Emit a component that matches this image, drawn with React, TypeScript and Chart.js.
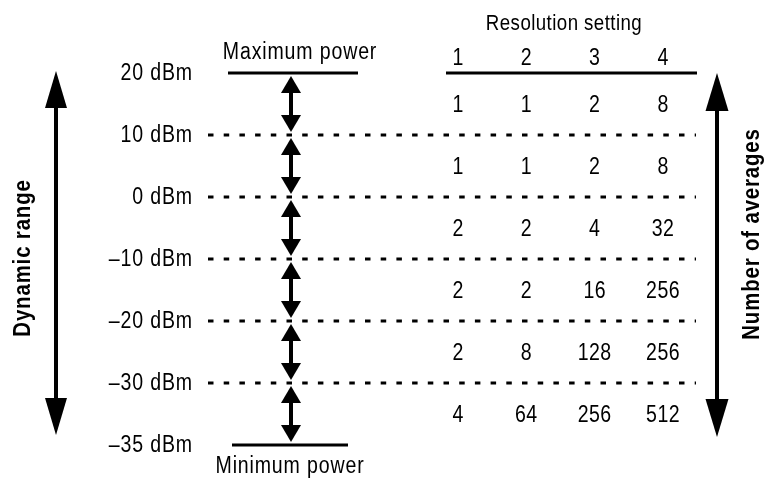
import React, { useEffect, useRef } from "react";
import { Chart, registerables } from "chart.js";

Chart.register(...registerables);

// ---- data ----
const levelLabels = ["20 dBm", "10 dBm", "0 dBm", "–10 dBm", "–20 dBm", "–30 dBm", "–35 dBm"];
const resolutionSettings = [1, 2, 3, 4];
const averagesRes1 = [1, 1, 2, 2, 2, 4];
const averagesRes2 = [1, 1, 2, 2, 8, 64];
const averagesRes3 = [2, 2, 4, 16, 128, 256];
const averagesRes4 = [8, 8, 32, 256, 256, 512];
const averagesByRes = [averagesRes1, averagesRes2, averagesRes3, averagesRes4];

const topLabel = "Maximum power";
const bottomLabel = "Minimum power";
const tableTitle = "Resolution setting";
const leftTitle = "Dynamic range";
const rightTitle = "Number of averages";

const FONT = "'Liberation Sans', Arial, sans-serif";
const SX = 0.85; // horizontal condensing of text

function setSpacing(ctx: any, px: number) {
  if ("letterSpacing" in ctx) ctx.letterSpacing = `${px}px`;
}

// draw condensed text at (x, y), optionally rotated
function cText(ctx: CanvasRenderingContext2D, text: string, x: number, y: number, rot = 0) {
  ctx.save();
  ctx.translate(x, y);
  if (rot) ctx.rotate(rot);
  ctx.scale(SX, 1);
  ctx.fillText(text, 0, 0);
  ctx.restore();
}

function arrowHead(ctx: CanvasRenderingContext2D, x: number, tipY: number, dir: number, halfW: number, len: number) {
  ctx.beginPath();
  ctx.moveTo(x, tipY);
  ctx.lineTo(x - halfW, tipY + dir * len);
  ctx.lineTo(x + halfW, tipY + dir * len);
  ctx.closePath();
  ctx.fill();
}

function doubleArrow(ctx: CanvasRenderingContext2D, x: number, y0: number, y1: number, halfW: number, len: number, shaft: number) {
  ctx.fillRect(x - shaft / 2, y0 + len - 1, shaft, y1 - y0 - 2 * len + 2);
  arrowHead(ctx, x, y0, 1, halfW, len);
  arrowHead(ctx, x, y1, -1, halfW, len);
}

const diagramPlugin = {
  id: "diagram",
  beforeDraw(chart: any) {
    const ctx: CanvasRenderingContext2D = chart.ctx;
    ctx.save();
    ctx.fillStyle = "#fff";
    ctx.fillRect(0, 0, chart.width, chart.height);
    ctx.restore();
  },
  beforeDatasetsDraw(chart: any) {
    const ctx: CanvasRenderingContext2D = chart.ctx;
    const ys = chart.scales.y;
    const xs = chart.scales.x;
    const yL = (i: number) => ys.getPixelForValue(i);
    const n = levelLabels.length;
    ctx.save();
    ctx.fillStyle = "#000";
    ctx.strokeStyle = "#000";

    // level labels
    ctx.font = `23px ${FONT}`;
    setSpacing(ctx, 1);
    ctx.textAlign = "right";
    ctx.textBaseline = "middle";
    levelLabels.forEach((l, i) => cText(ctx, l, 193, yL(i) + 1));

    // dotted interior lines
    ctx.lineWidth = 3;
    ctx.setLineDash([5.5, 10.2]);
    for (let i = 1; i < n - 1; i++) {
      ctx.beginPath();
      ctx.moveTo(208, yL(i));
      ctx.lineTo(696, yL(i));
      ctx.stroke();
    }
    ctx.setLineDash([]);

    // max / min power lines
    ctx.beginPath();
    ctx.moveTo(228, yL(0));
    ctx.lineTo(358, yL(0));
    ctx.moveTo(232, yL(n - 1));
    ctx.lineTo(348, yL(n - 1));
    // table header underline
    ctx.moveTo(446, yL(0));
    ctx.lineTo(697, yL(0));
    ctx.stroke();

    // middle double arrows
    for (let i = 0; i < n - 1; i++) {
      doubleArrow(ctx, 291, yL(i) + 3, yL(i + 1) - 3, 10, 17, 4);
    }

    // big arrows
    doubleArrow(ctx, 56, yL(0) - 2, yL(n - 1) - 10, 11, 37, 4);
    doubleArrow(ctx, 717, yL(0), yL(n - 1) - 8, 11.5, 38, 4);

    // titles
    ctx.textAlign = "center";
    ctx.textBaseline = "alphabetic";
    ctx.font = `23px ${FONT}`;
    setSpacing(ctx, 1);
    cText(ctx, topLabel, 300, 59);
    cText(ctx, bottomLabel, 290, 473);
    ctx.font = `22px ${FONT}`;
    setSpacing(ctx, 0.5);
    cText(ctx, tableTitle, 564, 30);
    ctx.font = `23px ${FONT}`;
    resolutionSettings.forEach((s) => cText(ctx, String(s), xs.getPixelForValue(s), 65));

    // rotated titles
    ctx.font = `bold 24px ${FONT}`;
    setSpacing(ctx, 1);
    ctx.textBaseline = "middle";
    cText(ctx, leftTitle, 23, 258, -Math.PI / 2);
    cText(ctx, rightTitle, 752, 234, -Math.PI / 2);

    ctx.restore();
  },
  afterDatasetsDraw(chart: any) {
    const ctx: CanvasRenderingContext2D = chart.ctx;
    ctx.save();
    ctx.fillStyle = "#000";
    ctx.font = `23px ${FONT}`;
    setSpacing(ctx, 0.5);
    ctx.textAlign = "center";
    ctx.textBaseline = "middle";
    chart.data.datasets.forEach((ds: any, di: number) => {
      const meta = chart.getDatasetMeta(di);
      meta.data.forEach((el: any, i: number) => {
        cText(ctx, String(ds.data[i].v), el.x, el.y + 2);
      });
    });
    ctx.restore();
  },
};

export default function App() {
  const ref = useRef<HTMLCanvasElement | null>(null);
  useEffect(() => {
    document.body.style.margin = "0";
    if (!ref.current) return;
    const datasets = resolutionSettings.map((s, si) => ({
      label: `Resolution ${s}`,
      data: averagesByRes[si].map((v, i) => ({ x: s, y: i + 0.5, v })),
      pointRadius: 0,
      pointHoverRadius: 0,
      showLine: false,
    }));
    const chart = new Chart(ref.current, {
      type: "scatter",
      data: { datasets },
      options: {
        animation: false,
        responsive: false,
        maintainAspectRatio: false,
        layout: { padding: 0 },
        plugins: { legend: { display: false }, tooltip: { enabled: false } },
        events: [],
        scales: {
          x: { type: "linear", min: -5.703, max: 5.507, display: false },
          y: { type: "linear", reverse: true, min: -1.177, max: 6.565, display: false },
        },
      } as any,
      plugins: [diagramPlugin],
    });
    return () => chart.destroy();
  }, []);
  return (
    <div style={{ width: 766, height: 480 }}>
      <canvas ref={ref} width={766} height={480} style={{ display: "block" }} />
    </div>
  );
}
